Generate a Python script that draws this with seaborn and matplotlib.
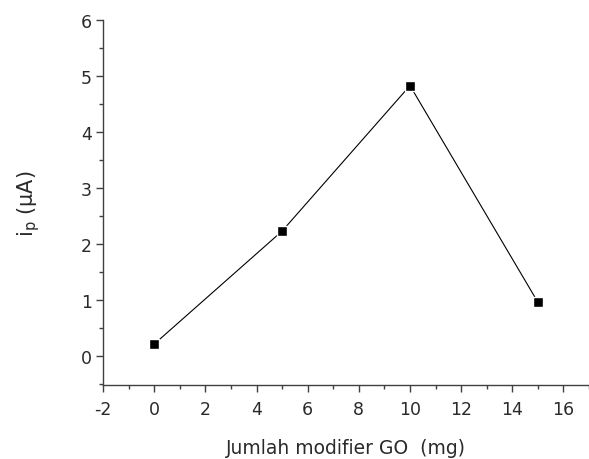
import matplotlib
matplotlib.use("Agg")
import matplotlib.pyplot as plt
import seaborn as sns
import pandas as pd
from matplotlib.ticker import MultipleLocator

go_mg = [0, 5, 10, 15]
ip_uA = [0.21, 2.23, 4.83, 0.96]
xticks = [-2, 0, 2, 4, 6, 8, 10, 12, 14, 16]
yticks = [0, 1, 2, 3, 4, 5, 6]

sns.set_theme(style="ticks")
plt.rcParams['font.family'] = ['DejaVu Sans']
plt.rcParams['axes.unicode_minus'] = False

df = pd.DataFrame({"x": go_mg, "y": ip_uA})

fig = plt.figure(figsize=(5.89, 4.6), dpi=100)
ax = fig.add_axes([0.175, 0.161, 0.825, 0.793])
sns.lineplot(data=df, x="x", y="y", ax=ax, color="black", linewidth=0.8,
             marker="s", markersize=7, markeredgecolor="white", markeredgewidth=1.0,
             markerfacecolor="black")

ax.set_xlim(-2, 17.0)
ax.set_ylim(-0.52, 6)
ax.set_xticks(xticks)
ax.set_yticks(yticks)
ax.xaxis.set_minor_locator(MultipleLocator(1))
ax.yaxis.set_minor_locator(MultipleLocator(0.5))
ax.spines['top'].set_visible(False)
ax.spines['right'].set_visible(False)
for s in ['left', 'bottom']:
    ax.spines[s].set_color('#404040')
    ax.spines[s].set_linewidth(1.0)
ax.tick_params(axis='x', which='major', pad=6)
ax.tick_params(axis='y', which='major', pad=3)
ax.tick_params(which='major', direction='out', length=5, width=1, color='#404040',
               labelsize=12.5, labelcolor='#2a2a2a')
ax.tick_params(which='minor', direction='out', length=3, width=1, color='#404040')
ax.set_xlabel("Jumlah modifier GO  (mg)", fontsize=13.5, color='#2a2a2a', labelpad=14)
ax.set_ylabel(r"i$_\mathregular{p}$ ($\mathregular{\mu}$A)", fontsize=15, color='#2a2a2a', labelpad=28)

fig.savefig("out.png", dpi=100)
